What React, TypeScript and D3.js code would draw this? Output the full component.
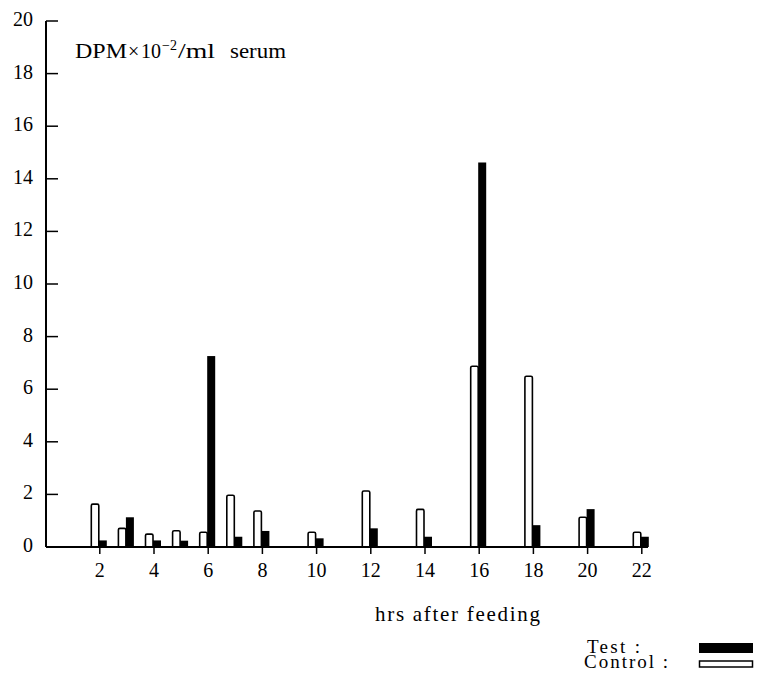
import React from "react";
import * as d3 from "d3";

const hours = [2, 3, 4, 5, 6, 7, 8, 10, 12, 14, 16, 18, 20, 22];
const controlValues = [1.63, 0.71, 0.49, 0.62, 0.56, 1.97, 1.37, 0.56, 2.13, 1.43, 6.87, 6.49, 1.13, 0.56];
const testValues = [0.25, 1.13, 0.25, 0.24, 7.26, 0.39, 0.61, 0.33, 0.71, 0.39, 14.62, 0.83, 1.44, 0.39];
const yTicks = [0, 2, 4, 6, 8, 10, 12, 14, 16, 18, 20];
const xTicks = [2, 4, 6, 8, 10, 12, 14, 16, 18, 20, 22];

const W = 759;
const H = 685;
const FONT = "Liberation Serif, Times New Roman, DejaVu Serif, serif";

export default function App() {
  const x = d3.scaleLinear().domain([0, 22]).range([45.6, 641.8]);
  const y = d3.scaleLinear().domain([0, 20]).range([547, 21]);
  const y0 = y(0);

  return (
    <svg
      width={W}
      height={H}
      style={{ position: "absolute", left: 0, top: 0, background: "#fff", fontFamily: FONT }}
    >
      {/* bars */}
      {hours.map((h, i) => {
        const cx = x(h);
        const cTop = y(controlValues[i]);
        const tTop = y(testValues[i]);
        return (
          <g key={h}>
            <path
              d={`M${cx - 8.5},${y0} L${cx - 8.5},${cTop + 1.5} Q${cx - 8.5},${cTop} ${cx - 7},${cTop} L${cx - 2.5},${cTop} Q${cx - 1},${cTop} ${cx - 1},${cTop + 1.5} L${cx - 1},${y0}`}
              fill="#fff"
              stroke="#000"
              strokeWidth={1.6}
            />
            <rect x={cx - 1} y={tTop} width={8} height={y0 - tTop} fill="#000" />
          </g>
        );
      })}

      {/* y axis */}
      <line x1={46} x2={46} y1={y(20)} y2={y0} stroke="#000" strokeWidth={2} />
      {yTicks.map((t) => (
        <g key={t}>
          {t > 0 && (
            <line x1={46} x2={58} y1={y(t)} y2={y(t)} stroke="#000" strokeWidth={1.5} />
          )}
          <text x={33} y={y(t) + 5} textAnchor="end" fontSize={20} fill="#000">
            {t}
          </text>
        </g>
      ))}

      {/* x axis */}
      <line x1={46} x2={648} y1={y0} y2={y0} stroke="#000" strokeWidth={1.8} />
      {xTicks.map((t) => (
        <g key={t}>
          <line x1={x(t)} x2={x(t)} y1={y0} y2={y0 + 7} stroke="#000" strokeWidth={1.5} />
          <text x={x(t)} y={577} textAnchor="middle" fontSize={20} fill="#000">
            {t}
          </text>
        </g>
      ))}

      {/* unit label */}
      <g fontSize={20} fill="#000">
        <text x={75} y={58} textLength={52} lengthAdjust="spacingAndGlyphs">DPM</text>
        <text x={128} y={58}>×</text>
        <text x={141} y={58}>10</text>
        <text x={162} y={50} fontSize={14}>−2</text>
        <text x={178} y={58} fontSize={21} textLength={37} lengthAdjust="spacingAndGlyphs">/ml</text>
        <text x={230} y={58} fontSize={21} textLength={56} lengthAdjust="spacingAndGlyphs">serum</text>
      </g>

      {/* x axis title */}
      <text x={375} y={621} fontSize={21} fill="#000" textLength={165} lengthAdjust="spacing">
        hrs after feeding
      </text>

      {/* legend */}
      <text x={587} y={653} fontSize={19} fill="#000" textLength={53} lengthAdjust="spacing">
        Test :
      </text>
      <rect x={699} y={643} width={54} height={10} fill="#000" />
      <text x={584} y={668} fontSize={19} fill="#000" textLength={84} lengthAdjust="spacing">
        Control :
      </text>
      <rect x={699.5} y={661} width={53} height={6} fill="#fff" stroke="#000" strokeWidth={1.5} />
    </svg>
  );
}
